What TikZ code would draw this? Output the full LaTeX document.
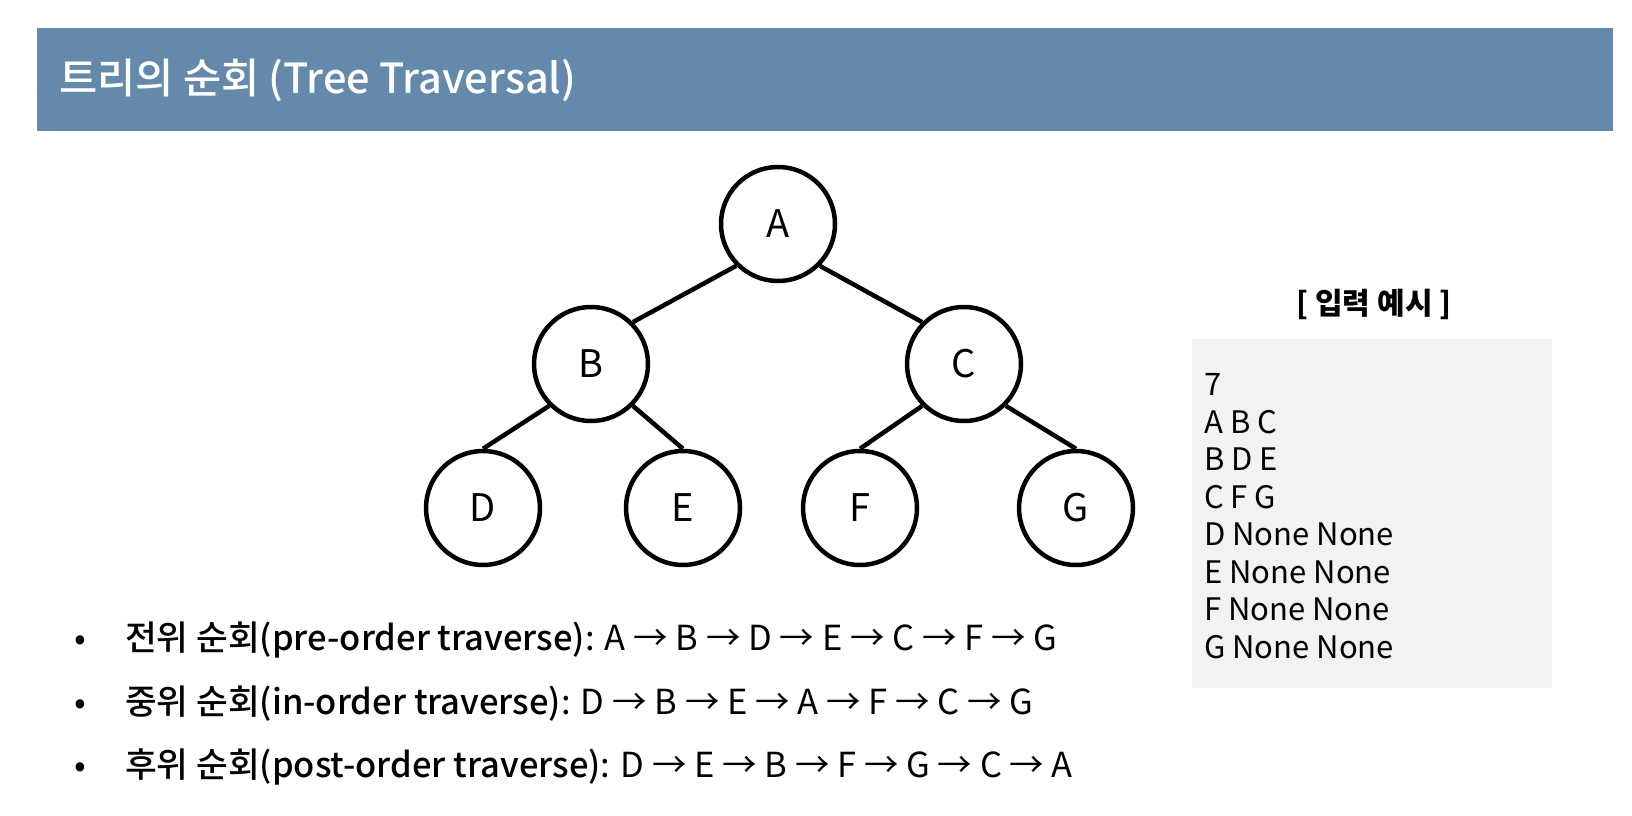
\documentclass[tikz,border=0pt]{standalone}
\usepackage{fontspec}
\setmainfont{Noto Sans CJK KR}
\newfontfamily\medfont{Noto Sans CJK KR Medium}

\definecolor{headblue}{RGB}{101,137,170}
\definecolor{boxgray}{RGB}{242,242,242}

\begin{document}
\begin{tikzpicture}[x=1pt, y=-1pt,
    treenode/.style={circle, draw=black, line width=4.5pt, minimum size=114pt, inner sep=0pt, font=\fontsize{38}{44}\selectfont},
    treeedge/.style={line width=4.5pt},
    exline/.style={anchor=base west, inner sep=0pt, font=\fontsize{31}{37}\selectfont},
    listline/.style={anchor=base west, inner sep=0pt, font=\fontsize{34.5}{41}\selectfont}]
    \useasboundingbox (0,0) rectangle (1632,816);

    % Title bar
    \fill[headblue] (37,28) rectangle (1613,131);
    \node[anchor=west, text=white, inner sep=0pt, font=\medfont\fontsize{41.5}{48}\selectfont] (title) at (59,80) {트리의 순회 (Tree Traversal)};

    % Tree nodes
    \node[treenode] (nA) at (778,224) {A};
    \node[treenode] (nB) at (591,364) {B};
    \node[treenode] (nC) at (964,364) {C};
    \node[treenode] (nD) at (483,508) {D};
    \node[treenode] (nE) at (683,508) {E};
    \node[treenode] (nF) at (860,508) {F};
    \node[treenode] (nG) at (1076,508) {G};

    % Edges
    \draw[treeedge] (nA.-135) -- (nB.45);
    \draw[treeedge] (nA.-45) -- (nC.135);
    \draw[treeedge] (nB.-135) -- (nD.north);
    \draw[treeedge] (nB.-45) -- (nE.north);
    \draw[treeedge] (nC.-135) -- (nF.north);
    \draw[treeedge] (nC.-45) -- (nG.north);

    % Input example
    \node[anchor=base, inner sep=0pt, font=\bfseries\fontsize{30}{36}\selectfont] (exlabel) at (1374,314) {[ 입력 예시 ]};
    \fill[boxgray] (1192,339) rectangle (1552,688);
    \foreach \txt [count=\i from 0] in {7, A B C, B D E, C F G, D None None, E None None, F None None, G None None}
        \node[exline] (ex\i) at (1204,395.5+37.5*\i) {\txt};

    % Traversal orders
    \node[listline] (bpre) at (74,650) {•};
    \node[listline] (pre) at (125,650) {{\medfont 전위 순회(pre-order traverse)}: A → B → D → E → C → F → G};
    \node[listline] (bin) at (74,714) {•};
    \node[listline] (in) at (125,714) {{\medfont 중위 순회(in-order traverse)}: D → B → E → A → F → C → G};
    \node[listline] (bpost) at (74,777) {•};
    \node[listline] (post) at (125,777) {{\medfont 후위 순회(post-order traverse)}: D → E → B → F → G → C → A};
\end{tikzpicture}
\end{document}
